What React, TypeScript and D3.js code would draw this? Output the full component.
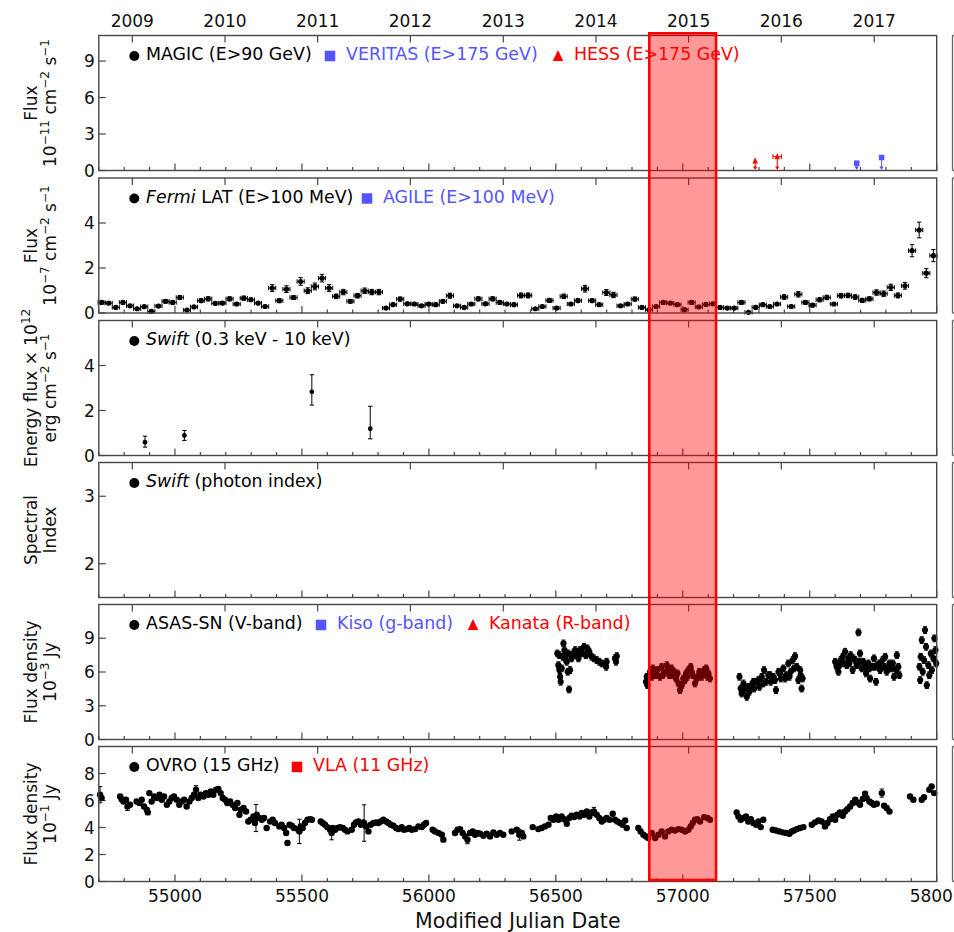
import React from 'react';
import * as d3 from 'd3';

// ---------------- DATA ----------------
const yearLabels = ['2009', '2010', '2011', '2012', '2013', '2014', '2015', '2016', '2017'];
const yearMjd = [54832, 55197, 55562, 55927, 56293, 56658, 57023, 57388, 57754];
const mjdTickLabels = [55000, 55500, 56000, 56500, 57000, 57500, 58000];
const shadedRange = [56868, 57131];

// Fermi LAT (28-day bins)
const fermiMjd = [
  54711, 54739, 54767, 54795, 54823, 54851, 54879, 54907, 54935, 54963, 54991, 55019, 55047, 55075, 55103, 55131,
  55159, 55187, 55215, 55243, 55271, 55299, 55327, 55355, 55383, 55411, 55439, 55467, 55495, 55523, 55551, 55579,
  55607, 55635, 55663, 55691, 55719, 55747, 55775, 55803, 55831, 55859, 55887, 55915, 55943, 55971, 55999, 56027,
  56055, 56083, 56111, 56139, 56167, 56195, 56223, 56251, 56279, 56307, 56335, 56363, 56391, 56419, 56447, 56475,
  56503, 56531, 56559, 56587, 56615, 56643, 56671, 56699, 56727, 56755, 56783, 56811, 56839, 56867, 56895, 56923,
  56951, 56979, 57007, 57035, 57063, 57091, 57119, 57147, 57175, 57203, 57231, 57259, 57287, 57315, 57343, 57371,
  57399, 57427, 57455, 57483, 57511, 57539, 57567, 57595, 57623, 57651, 57679, 57707, 57735, 57763, 57791, 57819,
  57847, 57875, 57903, 57931, 57959, 57987,
];
const fermiFlux = [
  0.47, 0.44, 0.25, 0.47, 0.32, 0.19, 0.28, 0.07, 0.31, 0.52, 0.47, 0.69, 0.13, 0.27, 0.55, 0.63, 0.43, 0.44, 0.63, 0.40,
  0.66, 0.59, 0.44, 0.29, 1.11, 0.55, 1.06, 0.69, 1.40, 0.99, 1.18, 1.55, 1.11, 0.74, 0.93, 0.52, 0.77, 0.99, 0.93, 0.93,
  0.22, 0.37, 0.62, 0.41, 0.40, 0.32, 0.40, 0.37, 0.52, 0.77, 0.32, 0.25, 0.40, 0.63,
  0.41, 0.63, 0.47, 0.40, 0.37, 0.78, 0.78, 0.19, 0.29, 0.56, 0.22, 0.74, 0.40, 0.55, 1.08, 0.55, 0.37, 0.91, 0.80, 0.32,
  0.40, 0.62, 0.25, 0.15, 0.29, 0.47, 0.44, 0.37, 0.15, 0.47, 0.27, 0.38, 0.41, 0.25, 0.22, 0.22, 0.47, 0.03, 0.25, 0.37,
  0.29, 0.40, 0.71, 0.29, 0.83, 0.47, 0.35, 0.59, 0.69, 0.40, 0.77, 0.78, 0.71, 0.56, 0.63, 0.91, 0.86, 1.14, 0.78, 1.21,
  2.77, 3.69, 1.77, 2.55,
];
const fermiErr = [
  0.07, 0.07, 0.06, 0.07, 0.06, 0.05, 0.06, 0.05, 0.06, 0.08, 0.07, 0.09, 0.05, 0.06, 0.08, 0.09, 0.07, 0.07, 0.09, 0.07,
  0.09, 0.08, 0.07, 0.06, 0.15, 0.09, 0.15, 0.09, 0.17, 0.13, 0.15, 0.17, 0.15, 0.10, 0.12, 0.08, 0.10, 0.12, 0.12, 0.12,
  0.06, 0.07, 0.09, 0.07, 0.07, 0.06, 0.07, 0.07, 0.08, 0.11, 0.06, 0.06, 0.07, 0.09,
  0.07, 0.09, 0.08, 0.07, 0.07, 0.11, 0.11, 0.05, 0.06, 0.09, 0.06, 0.10, 0.07, 0.08, 0.15, 0.08, 0.07, 0.13, 0.12, 0.06,
  0.07, 0.09, 0.06, 0.05, 0.06, 0.08, 0.07, 0.07, 0.05, 0.08, 0.06, 0.07, 0.07, 0.06, 0.06, 0.06, 0.08, 0.04, 0.06, 0.07,
  0.06, 0.07, 0.10, 0.06, 0.12, 0.08, 0.07, 0.09, 0.10, 0.07, 0.10, 0.10, 0.10, 0.09, 0.09, 0.12, 0.12, 0.14, 0.11, 0.15,
  0.27, 0.35, 0.20, 0.27,
];

// Swift XRT energy flux: [mjd, value, errUp, errDown]
const swiftFlux = [
  [54882, 0.59, 0.27, 0.22],
  [55037, 0.89, 0.22, 0.22],
  [55539, 2.83, 0.76, 0.59],
  [55769, 1.19, 1.0, 0.45],
];

// Upper limits: HESS [mjd, value, half-width days], VERITAS [mjd, value]
const hessUL = [
  [57285, 0.8, 0],
  [57372, 1.15, 17],
];
const veritasUL = [
  [57685, 0.6],
  [57783, 1.07],
];

// ASAS-SN V band [mjd, flux density]
const asassn = [
  [56506, 7.65], [56510, 6.61], [56514, 6.17], [56514, 7.5], [56517, 5.57], [56519, 5.13], [56523, 6.32], [56527, 7.35],
  [56530, 8.54], [56534, 7.95], [56536, 7.21], [56538, 7.65], [56543, 6.91], [56547, 6.02], [56549, 7.65], [56552, 4.45],
  [56556, 6.17], [56562, 7.21], [56569, 7.65], [56576, 7.95], [56582, 7.5], [56589, 7.21], [56595, 7.95], [56603, 7.65],
  [56611, 8.24], [56619, 7.5], [56624, 8.1], [56632, 7.8], [56641, 7.35], [56650, 7.21], [56661, 7.06], [56671, 6.91],
  [56681, 6.76], [56698, 6.46], [56700, 6.91], [56733, 7.21], [56737, 6.91], [56740, 7.41],
  [56855, 5.13], [56858, 5.57], [56861, 4.83], [56871, 6.02], [56878, 5.57], [56882, 6.32], [56891, 5.72], [56897, 5.72],
  [56900, 6.17], [56910, 5.57], [56917, 6.46], [56921, 5.72], [56926, 5.93], [56937, 6.61], [56943, 6.17], [56947, 5.72],
  [56956, 6.32], [56960, 5.72], [56966, 6.02], [56973, 5.42], [56979, 5.87], [56983, 4.98], [56989, 4.39], [56996, 4.83],
  [57002, 5.42], [57009, 5.28], [57013, 5.87], [57018, 5.57], [57022, 6.17], [57031, 6.46], [57035, 6.02], [57039, 5.72],
  [57048, 4.98], [57055, 5.42], [57061, 5.57], [57065, 6.02], [57075, 5.57], [57079, 5.87], [57084, 6.17], [57092, 6.32],
  [57097, 5.57], [57101, 5.87], [57107, 5.42],
  [57223, 5.57], [57228, 4.53], [57232, 4.09], [57239, 4.98], [57241, 4.39], [57252, 3.79], [57258, 4.68], [57262, 4.24],
  [57271, 4.83], [57278, 5.13], [57281, 4.53], [57291, 5.13], [57298, 5.28], [57302, 4.68], [57311, 5.57], [57317, 4.98],
  [57320, 6.17], [57328, 5.13], [57337, 5.72], [57344, 5.72], [57346, 5.13], [57357, 5.57], [57363, 5.28], [57367, 4.39],
  [57377, 6.02], [57383, 5.87], [57386, 5.42], [57396, 6.32], [57403, 5.42], [57407, 5.72], [57416, 6.76], [57420, 5.57],
  [57425, 6.02], [57433, 7.06], [57438, 6.32], [57442, 7.41], [57449, 6.46], [57455, 5.28], [57462, 6.17], [57464, 5.72],
  [57468, 4.53], [57472, 5.42],
  [57600, 6.91], [57606, 6.46], [57613, 6.02], [57617, 6.61], [57622, 7.06], [57630, 7.35], [57635, 6.76], [57639, 7.8],
  [57646, 6.61], [57652, 7.21], [57656, 6.76], [57661, 7.5], [57669, 6.17], [57672, 7.21], [57679, 7.06], [57685, 6.61],
  [57692, 9.52], [57696, 6.91], [57698, 7.65], [57705, 6.32], [57711, 6.91], [57718, 6.46], [57722, 5.87], [57731, 6.76],
  [57735, 6.32], [57738, 5.42], [57744, 6.46], [57753, 7.21], [57757, 6.46], [57761, 5.13], [57766, 6.61], [57774, 6.76],
  [57777, 6.17], [57787, 7.06], [57793, 6.46], [57797, 7.35], [57803, 6.02], [57810, 6.32], [57814, 6.76], [57823, 6.32],
  [57827, 6.76], [57832, 5.57], [57840, 6.17], [57843, 7.5], [57849, 6.46], [57853, 5.72],
  [57932, 6.46], [57935, 5.28], [57937, 7.35], [57941, 8.84], [57945, 6.02], [57950, 7.06], [57954, 9.73], [57958, 8.24],
  [57961, 4.83], [57967, 6.61], [57971, 5.72], [57977, 7.65], [57981, 6.17], [57987, 7.21], [57991, 8.99], [57995, 7.95],
  [57998, 6.76],
];

// OVRO 15 GHz [mjd, flux density, err?]
const ovro = [
  [54705, 6.43, 0.6], [54711, 6.18], [54784, 6.3], [54790, 6.1], [54797, 5.93], [54807, 6.06], [54813, 5.56, 0.3],
  [54823, 5.69], [54849, 5.93], [54860, 5.81], [54869, 6.06], [54878, 5.56], [54889, 5.31], [54893, 5.12], [54899, 6.55],
  [54908, 5.93], [54918, 6.3], [54928, 6.18], [54939, 6.43], [54948, 6.06], [54957, 6.3], [54968, 5.69], [54978, 5.93],
  [54987, 6.18], [54996, 6.3], [55007, 6.06], [55017, 5.69], [55027, 5.93], [55036, 6.06], [55046, 5.56], [55057, 5.93],
  [55066, 6.18], [55075, 6.43], [55083, 6.8, 0.3], [55092, 6.18], [55101, 6.43], [55112, 6.3], [55122, 6.55], [55132, 6.43],
  [55141, 6.67], [55151, 6.43], [55162, 6.8], [55171, 6.85], [55180, 6.55], [55188, 6.18], [55197, 6.06], [55206, 5.81],
  [55217, 5.93], [55227, 5.69], [55237, 5.44], [55246, 5.81], [55254, 4.94], [55259, 5.31], [55270, 5.44], [55280, 5.19],
  [55289, 4.45], [55298, 4.57], [55309, 4.82], [55315, 4.33], [55319, 4.7, 1.0], [55322, 4.94], [55332, 4.7], [55342, 4.57],
  [55351, 4.7], [55361, 3.96], [55375, 4.45], [55385, 4.57], [55394, 4.33], [55411, 4.08], [55420, 4.2], [55430, 3.96],
  [55438, 3.59], [55443, 2.85], [55451, 4.2], [55460, 4.13], [55469, 3.96], [55486, 3.83], [55490, 3.71, 0.9], [55495, 4.08],
  [55503, 3.96], [55512, 4.33], [55522, 4.57], [55532, 4.62], [55539, 4.57], [55574, 4.45], [55582, 4.33], [55591, 4.2],
  [55600, 4.03], [55611, 3.83], [55617, 3.59, 0.5], [55621, 3.96], [55631, 3.83], [55640, 3.96], [55650, 4.03], [55661, 3.96],
  [55670, 3.83], [55679, 3.71], [55696, 3.83], [55705, 4.2], [55713, 4.38], [55722, 4.45], [55732, 4.2], [55742, 4.38],
  [55745, 4.33, 1.35], [55753, 4.08], [55762, 3.71], [55771, 4.2], [55782, 4.33], [55792, 4.38], [55801, 4.33], [55810, 4.45],
  [55821, 4.57], [55831, 4.45], [55841, 4.33], [55850, 4.2], [55860, 4.13], [55871, 3.96], [55880, 3.88], [55893, 4.03],
  [55902, 3.83], [55913, 3.88], [55923, 3.96], [55933, 3.83], [55946, 3.88], [55959, 4.08], [55972, 4.03], [55981, 4.2],
  [55989, 4.33], [56015, 3.83], [56024, 3.71], [56038, 3.59], [56051, 3.46], [56057, 3.1], [56103, 3.59], [56113, 3.83],
  [56123, 3.88], [56133, 3.59], [56143, 3.34], [56152, 3.1, 0.3], [56162, 3.59], [56173, 3.71], [56182, 3.46], [56191, 3.59],
  [56202, 3.54], [56215, 3.39], [56228, 3.54], [56241, 3.34], [56254, 3.64], [56267, 3.46], [56280, 3.59], [56293, 3.46],
  [56326, 3.71], [56346, 3.83], [56356, 3.46, 0.4], [56366, 3.59], [56372, 3.34], [56409, 4.03], [56431, 3.88], [56444, 3.96],
  [56457, 4.08], [56471, 4.2], [56480, 4.7], [56490, 4.57], [56501, 4.82], [56510, 4.57], [56523, 4.82], [56532, 4.62],
  [56543, 4.28], [56553, 4.7], [56562, 4.87], [56572, 4.77], [56582, 4.94], [56593, 4.82], [56602, 5.07], [56611, 4.94],
  [56622, 5.19], [56632, 4.82], [56641, 5.12], [56650, 5.19, 0.3], [56661, 4.94], [56671, 4.7], [56681, 4.45], [56690, 4.57],
  [56700, 4.7], [56711, 4.57], [56724, 5.02], [56733, 4.57], [56742, 4.45], [56753, 4.33], [56763, 4.2], [56773, 4.52],
  [56779, 3.96], [56825, 3.96], [56834, 3.71], [56845, 3.46], [56855, 3.34], [56864, 3.22], [56878, 3.59], [56891, 3.22],
  [56904, 3.46], [56917, 3.71], [56930, 3.34], [56943, 3.71], [56956, 3.83], [56969, 3.78], [56983, 3.88], [56996, 3.83],
  [57009, 3.71], [57022, 3.83], [57031, 4.08], [57039, 4.33], [57048, 4.57], [57057, 4.62], [57068, 4.45], [57084, 4.77],
  [57097, 4.7], [57107, 4.57], [57212, 5.12], [57219, 4.82], [57228, 4.57], [57239, 4.7], [57249, 4.82], [57258, 4.45],
  [57268, 4.62], [57278, 4.33], [57289, 4.2], [57298, 4.45], [57307, 4.03], [57317, 4.57], [57354, 3.83], [57367, 3.78],
  [57380, 3.71], [57394, 3.64], [57407, 3.59], [57420, 3.54], [57429, 3.71], [57438, 3.78], [57449, 3.88], [57462, 3.96],
  [57475, 4.03], [57508, 4.2], [57521, 4.38], [57534, 4.52], [57547, 4.45], [57560, 4.08], [57570, 4.33], [57580, 4.62],
  [57591, 4.82], [57600, 4.57], [57609, 4.94], [57619, 5.12], [57630, 4.87], [57639, 5.19], [57648, 5.36], [57659, 5.56],
  [57669, 5.81], [57679, 6.06], [57688, 5.86], [57698, 5.69], [57709, 6.11], [57718, 6.5], [57724, 6.18], [57735, 5.93],
  [57744, 5.81], [57753, 5.69], [57764, 5.76], [57784, 6.55, 0.3], [57793, 5.61], [57803, 5.44], [57814, 5.19],
  [57895, 6.3], [57908, 6.06], [57941, 6.06], [57950, 6.25], [57971, 6.8], [57980, 7.04], [57990, 6.55],
];

// ---------------- LAYOUT ----------------
const W = 954;
const H = 932;
const X0 = 98.8;
const X1 = 936.7;
const PH = 135;
const FONT = 'DejaVu Sans, Verdana, sans-serif';
const BLUE = '#5555ff';
const RED = '#ff0000';
const FRAME = '#474747';

const xScale = d3.scaleLinear().domain([54700, 58000]).range([X0, X1]);

const panels = [
  { top: 35.5, domain: [0, 11.1], ticks: [0, 3, 6, 9] },
  { top: 178, domain: [0, 6], ticks: [0, 2, 4] },
  { top: 320.5, domain: [0, 6], ticks: [0, 2, 4] },
  { top: 462.5, domain: [1.5, 3.5], ticks: [2, 3] },
  { top: 604.5, domain: [0, 12], ticks: [0, 3, 6, 9] },
  { top: 746.5, domain: [0, 10], ticks: [0, 2, 4, 6, 8] },
];
const yScales = panels.map((p) =>
  d3.scaleLinear().domain(p.domain).range([p.top + PH, p.top])
);

type Seg = { t: string; sup?: boolean; it?: boolean };

function RichText({ segs, size, supSize }: { segs: Seg[]; size: number; supSize: number }) {
  const out: React.ReactNode[] = [];
  let raised = false;
  segs.forEach((s, i) => {
    let dy = 0;
    if (s.sup && !raised) { dy = -size * 0.42; raised = true; }
    else if (!s.sup && raised) { dy = size * 0.42; raised = false; }
    out.push(
      <tspan key={i} dy={dy || undefined} fontSize={s.sup ? supSize : size} fontStyle={s.it ? 'italic' : undefined}>
        {s.t}
      </tspan>
    );
  });
  return <>{out}</>;
}

const yLabels: Seg[][][] = [
  [[{ t: 'Flux' }], [{ t: '10' }, { t: '−11', sup: true }, { t: ' cm' }, { t: '−2', sup: true }, { t: ' s' }, { t: '−1', sup: true }]],
  [[{ t: 'Flux' }], [{ t: '10' }, { t: '−7', sup: true }, { t: ' cm' }, { t: '−2', sup: true }, { t: ' s' }, { t: '−1', sup: true }]],
  [[{ t: 'Energy flux × 10' }, { t: '12', sup: true }], [{ t: 'erg cm' }, { t: '−2', sup: true }, { t: ' s' }, { t: '−1', sup: true }]],
  [[{ t: 'Spectral' }], [{ t: 'Index' }]],
  [[{ t: 'Flux density' }], [{ t: '10' }, { t: '−3', sup: true }, { t: ' Jy' }]],
  [[{ t: 'Flux density' }], [{ t: '10' }, { t: '−1', sup: true }, { t: ' Jy' }]],
];

type LegItem = { marker: 'circle' | 'square' | 'triangle'; color: string; mx: number; tx: number; segs: Seg[] };
const legends: LegItem[][] = [
  [
    { marker: 'circle', color: '#000', mx: 134.3, tx: 146, segs: [{ t: 'MAGIC (E>90 GeV)' }] },
    { marker: 'square', color: BLUE, mx: 330, tx: 346, segs: [{ t: 'VERITAS (E>175 GeV)' }] },
    { marker: 'triangle', color: RED, mx: 558, tx: 574, segs: [{ t: 'HESS (E>175 GeV)' }] },
  ],
  [
    { marker: 'circle', color: '#000', mx: 134.3, tx: 146, segs: [{ t: 'Fermi', it: true }, { t: ' LAT (E>100 MeV)' }] },
    { marker: 'square', color: BLUE, mx: 367, tx: 383, segs: [{ t: 'AGILE (E>100 MeV)' }] },
  ],
  [{ marker: 'circle', color: '#000', mx: 134.3, tx: 146, segs: [{ t: 'Swift', it: true }, { t: ' (0.3 keV - 10 keV)' }] }],
  [{ marker: 'circle', color: '#000', mx: 134.3, tx: 146, segs: [{ t: 'Swift', it: true }, { t: ' (photon index)' }] }],
  [
    { marker: 'circle', color: '#000', mx: 134.3, tx: 146, segs: [{ t: 'ASAS-SN (V-band)' }] },
    { marker: 'square', color: BLUE, mx: 321, tx: 337, segs: [{ t: 'Kiso (g-band)' }] },
    { marker: 'triangle', color: RED, mx: 473, tx: 489, segs: [{ t: 'Kanata (R-band)' }] },
  ],
  [
    { marker: 'circle', color: '#000', mx: 134.3, tx: 146, segs: [{ t: 'OVRO (15 GHz)' }] },
    { marker: 'square', color: RED, mx: 297, tx: 313, segs: [{ t: 'VLA (11 GHz)' }] },
  ],
];

function Marker({ kind, x, y, s, color }: { kind: string; x: number; y: number; s: number; color: string }) {
  if (kind === 'circle') return <circle cx={x} cy={y} r={s / 2} fill={color} />;
  if (kind === 'square') return <rect x={x - s / 2} y={y - s / 2} width={s} height={s} fill={color} />;
  const h = s * 0.95;
  return <path d={`M${x},${y - h / 2 - 1}L${x + s / 2},${y + h / 2}L${x - s / 2},${y + h / 2}Z`} fill={color} />;
}

function ErrV({ x, y1, y2, cap, color, w = 1 }: { x: number; y1: number; y2: number; cap: number; color: string; w?: number }) {
  return (
    <g stroke={color} strokeWidth={w}>
      <line x1={x} x2={x} y1={y1} y2={y2} />
      <line x1={x - cap} x2={x + cap} y1={y1} y2={y1} />
      <line x1={x - cap} x2={x + cap} y1={y2} y2={y2} />
    </g>
  );
}

export default function App() {
  const minorTicks = d3.range(54700, 58001, 100);
  return (
    <svg
      width={W}
      height={H}
      viewBox={`0 0 ${W} ${H}`}
      style={{ position: 'absolute', left: 0, top: 0, display: 'block', background: '#fff' }}
      fontFamily={FONT}
    >
      <rect x={0} y={0} width={W} height={H} fill="#fff" />

      {/* top year labels */}
      {yearMjd.map((m, i) => (
        <text key={'yl' + i} x={xScale(m)} y={26.7} fontSize={17} textAnchor="middle" fill="#111">
          {yearLabels[i]}
        </text>
      ))}

      {panels.map((p, pi) => {
        const ys = yScales[pi];
        const bottom = p.top + PH;
        const cy = p.top + PH / 2;
        return (
          <g key={'p' + pi}>
            {/* y label */}
            {yLabels[pi].map((line, li) => (
              <text
                key={li}
                transform={`translate(${li === 0 ? 37 : 56},${cy}) rotate(-90)`}
                textAnchor="middle"
                fontSize={17}
                fill="#111"
              >
                <RichText segs={line} size={17} supSize={12} />
              </text>
            ))}
            {/* y ticks */}
            {p.ticks.map((t) => (
              <g key={'yt' + t}>
                <line x1={X0} x2={X0 + 7} y1={ys(t)} y2={ys(t)} stroke={FRAME} strokeWidth={1.2} />
                <text x={X0 - 4} y={ys(t)} dy="0.36em" fontSize={17} textAnchor="end" fill="#111">
                  {t}
                </text>
              </g>
            ))}
            {/* top year ticks */}
            {yearMjd.map((m) => (
              <line key={'tt' + m} x1={xScale(m)} x2={xScale(m)} y1={p.top} y2={p.top + 7} stroke={FRAME} strokeWidth={1.2} />
            ))}
            {/* bottom ticks */}
            {minorTicks.map((m) => {
              const major = m % 500 === 0;
              return (
                <line
                  key={'bt' + m}
                  x1={xScale(m)}
                  x2={xScale(m)}
                  y1={bottom}
                  y2={bottom - (major ? 7 : 3.5)}
                  stroke={FRAME}
                  strokeWidth={1.2}
                />
              );
            })}
            {/* right column border of the neighbouring subplot */}
            <line x1={952.5} x2={952.5} y1={p.top} y2={bottom} stroke="#666" strokeWidth={1.3} />
            <line x1={952.5} x2={954} y1={p.top} y2={p.top} stroke="#666" strokeWidth={1.3} />
            <line x1={952.5} x2={954} y1={bottom} y2={bottom} stroke="#666" strokeWidth={1.3} />
            {/* legend */}
            {legends[pi].map((it, k) => (
              <g key={'lg' + k}>
                <Marker kind={it.marker} x={it.mx} y={p.top + 20.5} s={it.marker === 'circle' ? 10 : 10.5} color={it.color} />
                <text x={it.tx} y={p.top + 24.8} fontSize={17.4} fill={it.color}>
                  <RichText segs={it.segs} size={17.4} supSize={12} />
                </text>
              </g>
            ))}
          </g>
        );
      })}

      {/* Panel 1: upper limits */}
      {hessUL.map((d, i) => {
        const x = xScale(d[0]);
        const y = yScales[0](d[1]);
        const yb = yScales[0](0) - 0.5;
        return (
          <g key={'h' + i}>
            {d[2] > 0 && (
              <ErrV x={0} y1={0} y2={0} cap={0} color="none" />
            )}
            {d[2] > 0 && (
              <g stroke={RED} strokeWidth={1}>
                <line x1={xScale(d[0] - d[2])} x2={xScale(d[0] + d[2])} y1={y} y2={y} />
                <line x1={xScale(d[0] - d[2])} x2={xScale(d[0] - d[2])} y1={y - 2.5} y2={y + 2.5} />
                <line x1={xScale(d[0] + d[2])} x2={xScale(d[0] + d[2])} y1={y - 2.5} y2={y + 2.5} />
              </g>
            )}
            <line x1={x} x2={x} y1={y} y2={yb - 3} stroke={RED} strokeWidth={1} />
            <path d={`M${x - 2.2},${yb - 3.5}L${x + 2.2},${yb - 3.5}L${x},${yb}Z`} fill={RED} />
            <Marker kind="triangle" x={x} y={y} s={5.5} color={RED} />
          </g>
        );
      })}
      {veritasUL.map((d, i) => {
        const x = xScale(d[0]);
        const y = yScales[0](d[1]);
        const yb = yScales[0](0) - 0.5;
        return (
          <g key={'v' + i}>
            <line x1={x} x2={x} y1={y} y2={yb - 3} stroke={BLUE} strokeWidth={1} />
            <path d={`M${x - 2.2},${yb - 3.5}L${x + 2.2},${yb - 3.5}L${x},${yb}Z`} fill={BLUE} />
            <Marker kind="square" x={x} y={y} s={5.5} color={BLUE} />
          </g>
        );
      })}

      {/* Panel 2: Fermi LAT */}
      {fermiMjd.map((m, i) => {
        const x = xScale(m);
        const v = fermiFlux[i];
        const e = fermiErr[i];
        const ys = yScales[1];
        const xl = xScale(m - 14);
        const xr = xScale(m + 14);
        return (
          <g key={'f' + i}>
            <ErrV x={x} y1={ys(v + e)} y2={ys(Math.max(0, v - e))} cap={2.2} color="#000" />
            <g stroke="#000" strokeWidth={1}>
              <line x1={xl} x2={xr} y1={ys(v)} y2={ys(v)} />
              <line x1={xl} x2={xl} y1={ys(v) - 2.2} y2={ys(v) + 2.2} />
              <line x1={xr} x2={xr} y1={ys(v) - 2.2} y2={ys(v) + 2.2} />
            </g>
            <circle cx={x} cy={ys(v)} r={2.6} fill="#000" />
          </g>
        );
      })}

      {/* Panel 3: Swift energy flux */}
      {swiftFlux.map((d, i) => {
        const ys = yScales[2];
        const x = xScale(d[0]);
        return (
          <g key={'s' + i}>
            <ErrV x={x} y1={ys(d[1] + d[2])} y2={ys(d[1] - d[3])} cap={2.2} color="#000" />
            <circle cx={x} cy={ys(d[1])} r={2.4} fill="#000" />
          </g>
        );
      })}

      {/* Panel 5: ASAS-SN */}
      {asassn.map((d, i) => {
        const ys = yScales[4];
        const x = xScale(d[0]);
        const e = 0.3;
        return (
          <g key={'a' + i}>
            <ErrV x={x} y1={ys(d[1] + e)} y2={ys(d[1] - e)} cap={2} color="#000" />
            <circle cx={x} cy={ys(d[1])} r={3.1} fill="#000" />
          </g>
        );
      })}

      {/* Panel 6: OVRO */}
      {ovro.map((d, i) => {
        const ys = yScales[5];
        const x = xScale(d[0]);
        const e = d.length > 2 ? d[2] : 0.12;
        return (
          <g key={'o' + i}>
            <ErrV x={x} y1={ys(d[1] + e)} y2={ys(d[1] - e)} cap={2.2} color="#000" />
            <circle cx={x} cy={ys(d[1])} r={3.2} fill="#000" />
          </g>
        );
      })}

      {/* frames */}
      {panels.map((p, pi) => (
        <rect key={'fr' + pi} x={X0} y={p.top} width={X1 - X0} height={PH} fill="none" stroke={FRAME} strokeWidth={1.4} />
      ))}

      {/* bottom tick labels */}
      {mjdTickLabels.map((m) => (
        <text key={'xl' + m} x={xScale(m)} y={901.7} fontSize={17} textAnchor="middle" fill="#111">
          {m}
        </text>
      ))}
      <text x={(X0 + X1) / 2} y={928} fontSize={20.5} textAnchor="middle" fill="#111">
        Modified Julian Date
      </text>

      {/* highlighted interval */}
      <rect
        x={xScale(shadedRange[0])}
        y={33.3}
        width={xScale(shadedRange[1]) - xScale(shadedRange[0])}
        height={880 - 33.3}
        fill={RED}
        fillOpacity={0.4}
        stroke={RED}
        strokeWidth={2.6}
      />
    </svg>
  );
}
